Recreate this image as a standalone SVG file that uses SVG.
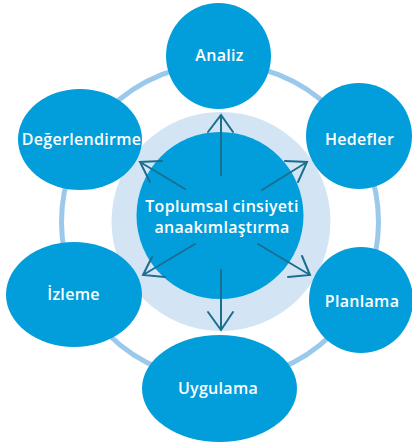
<svg xmlns="http://www.w3.org/2000/svg" width="412" height="446" viewBox="0 0 412 446">
<style>
.node{fill:#029edb}
.lbl{font-family:"Open Sans","Liberation Sans",sans-serif;font-weight:600;font-size:16px;fill:#ffffff;text-anchor:middle;letter-spacing:0.3px}
.arr{fill:none;stroke:#1a6f8f;stroke-width:2;stroke-linecap:round;stroke-linejoin:miter}
</style>
<rect width="412" height="446" fill="#ffffff"/>
<g id="ring">
<circle cx="220" cy="222" r="158.5" fill="none" stroke="#9bc9ec" stroke-width="5"/>
<circle cx="221" cy="221.5" r="109.5" fill="#d3e5f5"/>
</g>
<g id="center">
<circle class="node" cx="220" cy="215.5" r="83.5"/>
<text class="lbl" font-size="15"><tspan x="222" y="212">Toplumsal cinsiyeti</tspan><tspan x="222" y="232.8">anaakımlaştırma</tspan></text>
</g>
<g id="connectors">
<path class="arr" d="M221 175 V115 M208 132 L221 115 L233 132"/>
<path class="arr" d="M221 270 V330 M208 312 L221 330 L233 312"/>
<path class="arr" d="M185 189 L140 162 M162 161 L140 162 L150 182"/>
<path class="arr" d="M262 190 L307 162 M285 161 L307 162 L298 182"/>
<path class="arr" d="M195 244 L143 275 M165 277 L143 275 L152 257"/>
<path class="arr" d="M258 244 L310 275 M288 277 L310 275 L302 256"/>
</g>
<g id="analiz">
<ellipse class="node" cx="218.5" cy="56" rx="52.5" ry="53"/>
<text class="lbl" x="219.5" y="61">Analiz</text>
</g>
<g id="hedefler">
<ellipse class="node" cx="359" cy="136" rx="53" ry="53"/>
<text class="lbl" x="359.5" y="145">Hedefler</text>
</g>
<g id="planlama">
<ellipse class="node" cx="361" cy="300" rx="52" ry="53"/>
<text class="lbl" x="362" y="307">Planlama</text>
</g>
<g id="uygulama">
<ellipse class="node" cx="219.5" cy="388.5" rx="77.5" ry="53.5"/>
<text class="lbl" x="218" y="394">Uygulama</text>
</g>
<g id="izleme">
<ellipse class="node" cx="74" cy="294.5" rx="68" ry="52.5"/>
<text class="lbl" x="73.5" y="300">İzleme</text>
</g>
<g id="degerlendirme">
<ellipse class="node" cx="80" cy="139.5" rx="62" ry="50.5"/>
<text class="lbl" x="81.5" y="145">Değerlendirme</text>
</g>
</svg>
